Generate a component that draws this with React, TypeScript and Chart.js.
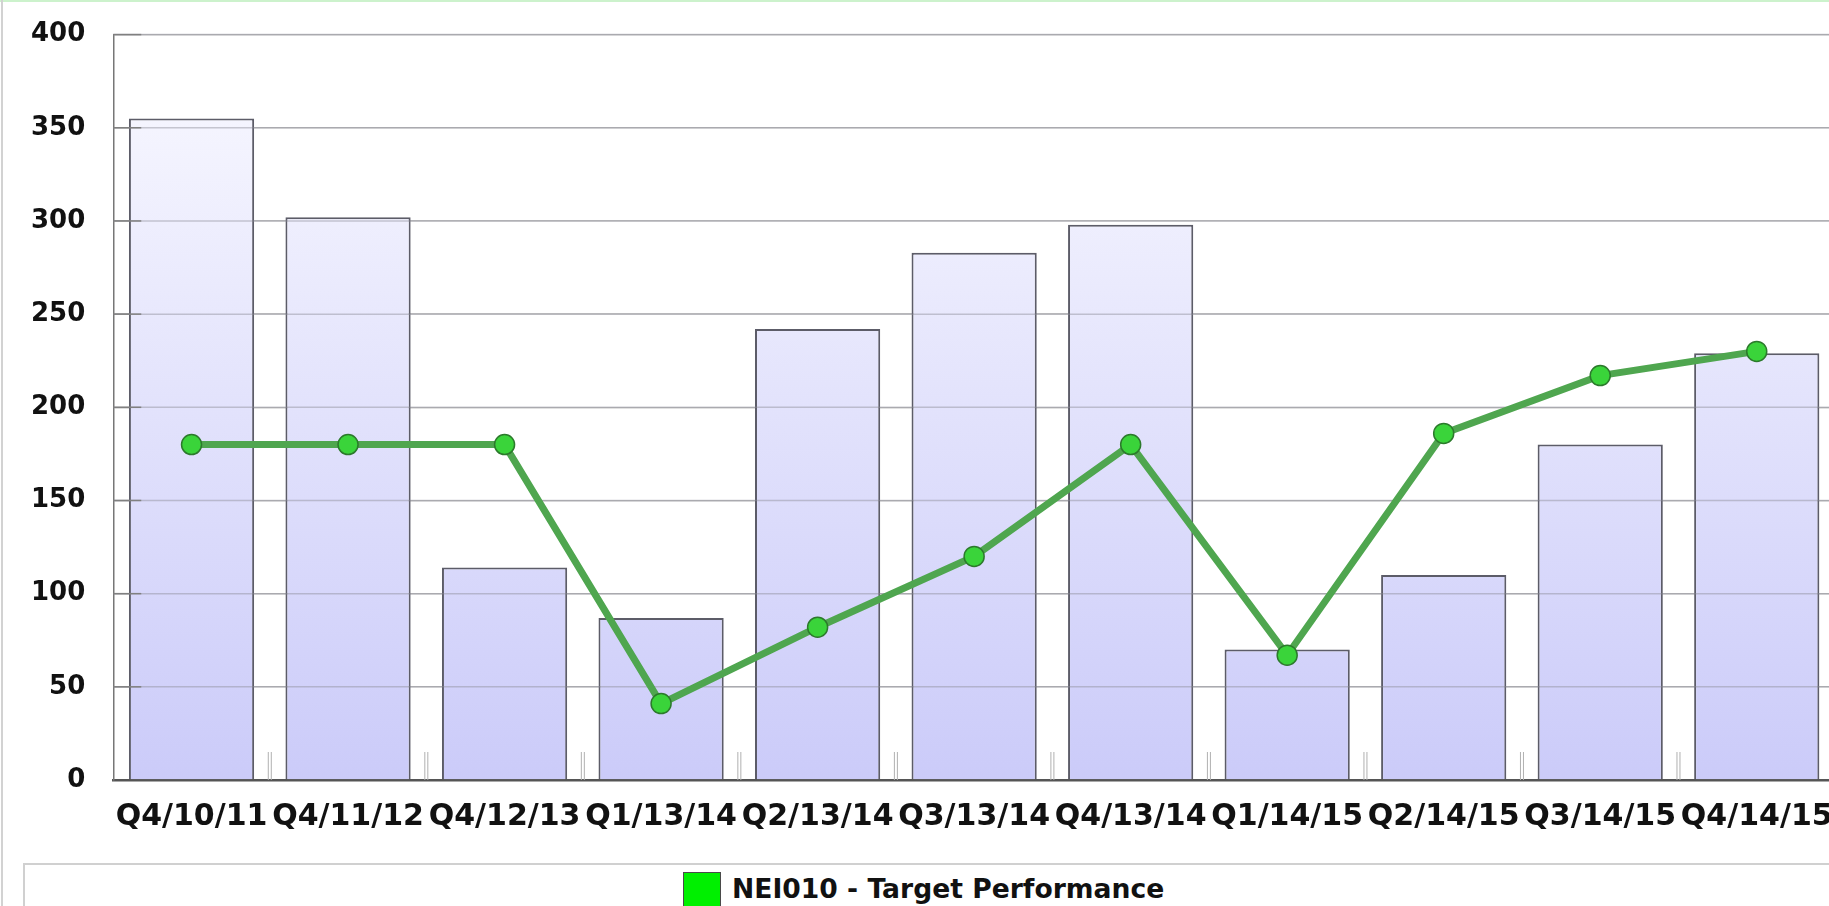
import React, { useEffect, useRef } from "react";
import { Chart, registerables } from "chart.js";

Chart.register(...registerables);

const categories = [
  "Q4/10/11",
  "Q4/11/12",
  "Q4/12/13",
  "Q1/13/14",
  "Q2/13/14",
  "Q3/13/14",
  "Q4/13/14",
  "Q1/14/15",
  "Q2/14/15",
  "Q3/14/15",
  "Q4/14/15",
];
const actualValues = [355, 302, 114, 87, 242, 283, 298, 70, 110, 180, 229];
const targetValues = [180, 180, 180, 41, 82, 120, 180, 67, 186, 217, 230];
const yMin = 0;
const yMax = 400;
const yStep = 50;
const legendLabel = "NEI010 - Target Performance";

const FONT = '"DejaVu Sans", Verdana, sans-serif';

const overlayPlugin = {
  id: "overlay",
  beforeDatasetDraw(chart: any, args: any) {
    if (args.index !== 1) return;
    const { ctx, chartArea: ca, scales } = chart;
    const y = scales.y;
    const x = scales.x;
    ctx.save();
    // grid lines visible over bars
    ctx.strokeStyle = "rgba(140,140,150,0.45)";
    ctx.lineWidth = 1.5;
    y.ticks.forEach((_t: any, i: number) => {
      if (i === 0) return;
      const py = y.getPixelForTick(i);
      ctx.beginPath();
      ctx.moveTo(ca.left, py);
      ctx.lineTo(ca.right, py);
      ctx.stroke();
    });
    // short inner ticks on y axis
    ctx.strokeStyle = "#808080";
    ctx.lineWidth = 1.5;
    y.ticks.forEach((_t: any, i: number) => {
      if (i === 0) return;
      const py = y.getPixelForTick(i);
      ctx.beginPath();
      ctx.moveTo(ca.left, py);
      ctx.lineTo(ca.left + 28, py);
      ctx.stroke();
    });
    // short inner ticks at category boundaries
    ctx.strokeStyle = "#b0b0b0";
    ctx.lineWidth = 1;
    for (let i = 1; i < categories.length; i++) {
      const px = (x.getPixelForTick(i - 1) + x.getPixelForTick(i)) / 2;
      ctx.beginPath();
      ctx.moveTo(px - 1.5, ca.bottom);
      ctx.lineTo(px - 1.5, ca.bottom - 28);
      ctx.moveTo(px + 1.5, ca.bottom);
      ctx.lineTo(px + 1.5, ca.bottom - 28);
      ctx.stroke();
    }
    ctx.restore();
  },
};

export default function App() {
  const canvasRef = useRef<HTMLCanvasElement | null>(null);

  useEffect(() => {
    if (!canvasRef.current) return;
    const chart = new Chart(canvasRef.current, {
      type: "bar",
      data: {
        labels: categories,
        datasets: [
          {
            type: "bar",
            label: "Actual",
            data: actualValues,
            backgroundColor: (c: any) => {
              const ca = c.chart.chartArea;
              if (!ca) return "#dedefb";
              const g = c.chart.ctx.createLinearGradient(0, ca.top, 0, ca.bottom);
              g.addColorStop(0, "#fafaff");
              g.addColorStop(1, "#cbcbf9");
              return g;
            },
            borderColor: "#5c5c68",
            borderWidth: 2,
            barPercentage: 0.8,
            categoryPercentage: 1.0,
            order: 2,
          } as any,
          {
            type: "line",
            label: legendLabel,
            data: targetValues,
            borderColor: "#4fa64f",
            borderWidth: 7,
            pointRadius: 10,
            pointBackgroundColor: "#3ad43a",
            pointBorderColor: "#2c7a2c",
            pointBorderWidth: 1.5,
            tension: 0,
            order: 1,
          } as any,
        ],
      },
      options: {
        responsive: false,
        animation: false,
        layout: { padding: { left: 3, right: 25, top: 24, bottom: 43 } },
        plugins: {
          legend: { display: false },
          tooltip: { enabled: false },
        },
        scales: {
          x: {
            grid: { display: false, drawTicks: false },
            border: { color: "#555555", width: 2.5 },
            ticks: {
              font: { family: FONT, size: 30, weight: "bold" },
              color: "#111111",
              padding: 19,
              maxRotation: 0,
              autoSkip: false,
            },
          },
          y: {
            min: yMin,
            max: yMax,
            ticks: {
              stepSize: yStep,
              font: { family: FONT, size: 26, weight: "bold" },
              color: "#111111",
              padding: 28,
            },
            grid: { color: "#c4c4c4", lineWidth: 1.5, drawTicks: false },
            border: { color: "#777777", width: 1.5 },
          },
        },
      } as any,
      plugins: [overlayPlugin],
    });
    return () => chart.destroy();
  }, []);

  return (
    <div
      style={{
        position: "fixed",
        left: 0,
        top: 0,
        width: 1829,
        height: 906,
        overflow: "hidden",
        background: "#ffffff",
      }}
    >
      <canvas
        ref={canvasRef}
        width={1860}
        height={906}
        style={{ position: "absolute", left: 0, top: -9, width: 1860, height: 906 }}
      />
      <div style={{ position: "absolute", left: 0, top: 0, width: 1829, height: 2, background: "#ccf2cc" }} />
      <div style={{ position: "absolute", left: 1, top: 0, width: 2, height: 906, background: "#d2d2d2" }} />
      <div
        style={{
          position: "absolute",
          left: 23,
          top: 863,
          width: 1900,
          height: 80,
          border: "2px solid #d0d0d0",
          boxSizing: "border-box",
          background: "#ffffff",
        }}
      />
      <div
        style={{
          position: "absolute",
          left: 683,
          top: 872,
          width: 38,
          height: 36,
          background: "#00f000",
          border: "1px solid #4a4a4a",
          boxSizing: "border-box",
        }}
      />
      <div
        style={{
          position: "absolute",
          left: 732,
          top: 875,
          font: `bold 26.6px ${FONT}`,
          lineHeight: "27px",
          color: "#111111",
          whiteSpace: "nowrap",
        }}
      >
        {legendLabel}
      </div>
    </div>
  );
}
